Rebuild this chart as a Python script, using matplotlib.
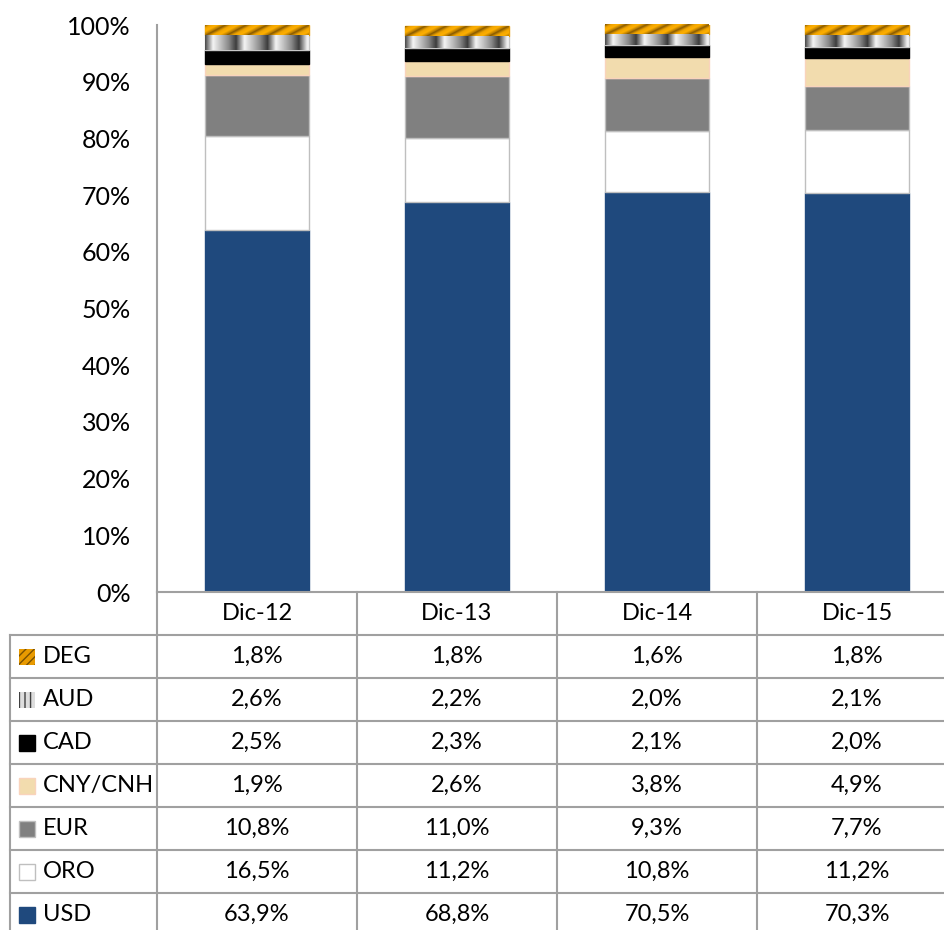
import numpy as np
import matplotlib
matplotlib.use("Agg")
import matplotlib.pyplot as plt
from matplotlib import transforms
from matplotlib.patches import Rectangle
from matplotlib.colors import LinearSegmentedColormap

plt.rcParams['font.family'] = ['Lato', 'DejaVu Sans']

categories = ["Dic-12", "Dic-13", "Dic-14", "Dic-15"]
series_names = ["USD", "ORO", "EUR", "CNY/CNH", "CAD", "AUD", "DEG"]
usd = [63.9, 68.8, 70.5, 70.3]
oro = [16.5, 11.2, 10.8, 11.2]
eur = [10.8, 11.0, 9.3, 7.7]
cny = [1.9, 2.6, 3.8, 4.9]
cad = [2.5, 2.3, 2.1, 2.0]
aud = [2.6, 2.2, 2.0, 2.1]
deg = [1.8, 1.8, 1.6, 1.8]
series_values = [usd, oro, eur, cny, cad, aud, deg]
ytick_values = [0, 10, 20, 30, 40, 50, 60, 70, 80, 90, 100]

face = {"USD": "#1F497D", "ORO": "#FFFFFF", "EUR": "#808080", "CNY/CNH": "#F2DCAE",
        "CAD": "#000000", "AUD": "#C8C8C8", "DEG": "#E89A00"}
edge = {"USD": "#1F497D", "ORO": "#BFBFBF", "EUR": "#BFBFBF", "CNY/CNH": "#F9D3BC",
        "CAD": "#000000", "AUD": "#C8C8C8", "DEG": "#E89A00"}

W, H = 944, 930
fig = plt.figure(figsize=(W / 100, H / 100), dpi=100)
ax = fig.add_axes([157 / W, 1 - 592 / H, 800 / W, 567 / H])

x = np.arange(len(categories))
bottom = np.zeros(len(categories))
containers = {}
for name, vals in zip(series_names, series_values):
    vals = np.array(vals, dtype=float)
    c = ax.bar(x, vals, width=0.52, bottom=bottom, color=face[name],
               edgecolor=edge[name], linewidth=1.0, zorder=2)
    containers[name] = c
    bottom += vals

# textures
aud_cmap = LinearSegmentedColormap.from_list("aud", ["#4a4a4a", "#f4f4f4", "#c0c0c0", "#8a8a8a", "#3a3a3a"])
t = np.linspace(0, 3.3, 300)
aud_tex = np.tile(np.mod(t, 1.0), (10, 1))
deg_cmap = LinearSegmentedColormap.from_list("deg", ["#7a5000", "#f0a400", "#ffb000", "#a87000"])
ii, jj = np.mgrid[0:20, 0:300]
deg_tex = np.mod((jj + ii * 3.0) / 60.0, 1.0)
for name, tex, cm in [("AUD", aud_tex, aud_cmap), ("DEG", deg_tex, deg_cmap)]:
    for p in containers[name].patches:
        x0, y0 = p.get_x(), p.get_y()
        im = ax.imshow(tex, extent=[x0, x0 + p.get_width(), y0, y0 + p.get_height()],
                       aspect='auto', cmap=cm, zorder=2.5, interpolation='bilinear')
        im.set_clip_path(p)

ax.set_xlim(-0.5, len(categories) - 0.5)
ax.set_ylim(0, 100)
ax.set_yticks(ytick_values)
ax.set_yticklabels([f"{v}%" for v in ytick_values], fontsize=18)
ax.set_xticks([])
ax.tick_params(axis='y', length=0, pad=19)
for s in ["top", "right", "bottom"]:
    ax.spines[s].set_visible(False)
ax.spines["left"].set_color("#A0A0A0")
ax.spines["left"].set_linewidth(1.5)
ax.set_facecolor("none")

# table
gc = "#A0A0A0"
lw = 1.5
def fy(py):
    return 1 - py / H
def fx(px):
    return px / W

bt = transforms.blended_transform_factory(ax.transData, fig.transFigure)
ft = fig.transFigure

row_h = 43
header_top, header_bot = 592, 635
fig.add_artist(plt.Line2D([fx(157), fx(157)], [fy(592), fy(940)], color=gc, lw=lw, transform=ft))
fig.add_artist(plt.Line2D([fx(157), 1.02], [fy(592), fy(592)], color=gc, lw=lw, transform=ft))
fig.add_artist(plt.Line2D([fx(10), fx(10)], [fy(635), fy(940)], color=gc, lw=lw, transform=ft))
for k in range(8):
    py = header_bot + row_h * k
    fig.add_artist(plt.Line2D([fx(10), 1.02], [fy(py), fy(py)], color=gc, lw=lw, transform=ft))
for i in range(len(categories)):
    fig.add_artist(plt.Line2D([i + 0.5, i + 0.5], [fy(592), fy(940)], color=gc, lw=lw, transform=bt))

for i, cat in enumerate(categories):
    fig.text(i, fy((header_top + header_bot) / 2), cat, transform=bt, ha='center', va='center', fontsize=17)

rows = list(reversed(list(zip(series_names, series_values))))
for k, (name, vals) in enumerate(rows):
    cy = header_bot + row_h * k + row_h / 2
    for i, v in enumerate(vals):
        fig.text(i, fy(cy), f"{v:.1f}%".replace(".", ","), transform=bt,
                 ha='center', va='center', fontsize=17)
    fig.text(fx(43), fy(cy), name, ha='left', va='center', fontsize=17)
    kx, ky, ks = 19, cy - 8, 16
    kw = dict(transform=ft, linewidth=1.0)
    if name == "DEG":
        r = Rectangle((fx(kx), fy(ky + ks)), ks / W, ks / H, facecolor="#E89A00",
                      edgecolor="#7a5000", hatch="////", **kw)
        r.set_linewidth(0)
    elif name == "AUD":
        r = Rectangle((fx(kx), fy(ky + ks)), ks / W, ks / H, facecolor="#DDDDDD",
                      edgecolor="#404040", hatch="|||", **kw)
        r.set_linewidth(0)
    else:
        r = Rectangle((fx(kx), fy(ky + ks)), ks / W, ks / H, facecolor=face[name],
                      edgecolor=edge[name], **kw)
    fig.add_artist(r)

fig.savefig("out.png", dpi=100)
